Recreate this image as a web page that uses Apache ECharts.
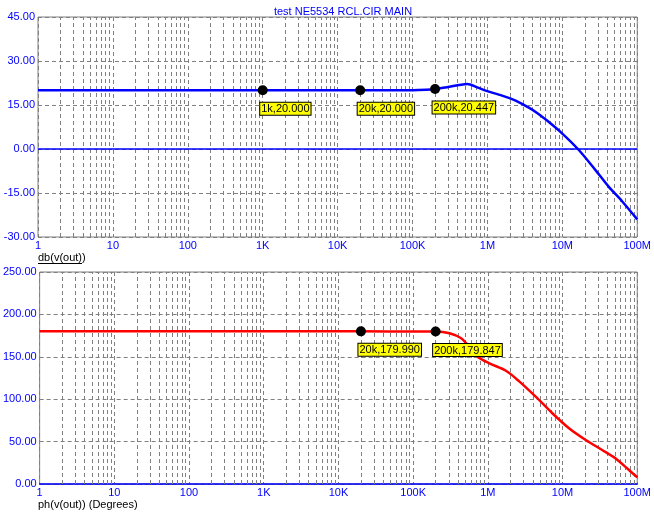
<!DOCTYPE html>
<html>
<head>
    <meta charset='utf-8'>
    <script src="https://cdn.jsdelivr.net/npm/echarts@6/dist/echarts.min.js"></script>
</head>
<body>
<style>
    html, body, #main {
        width: 100%;
        height: 100%;
        margin: 0;
        padding: 0;
        background: #fff;
    }
</style>
<div id="main"></div>
<script>
    // tick labels for the decade ticks (index = log10 of the value)
    var xTickLabels = ['1', '10', '100', '1K', '10K', '100K', '1M', '10M', '100M'];

    // magnitude trace, db(v(out))
    var magFreq = [1, 1e3, 2e4, 1e5, 1.5e5, 2e5, 2.77e5, 4.17e5, 5.4e5, 7.31e5, 9.46e5,
        1.57e6, 2.38e6, 3.57e6, 4.6e6, 5.97e6, 9.9e6, 1.66e7, 2.77e7, 4.17e7, 6.27e7, 1e8];
    var magDb = [20, 20, 20, 20.05, 20.2, 20.447, 21.0, 21.8, 22.2, 21.0, 19.9,
        18.2, 16.5, 14.1, 12.3, 10.1, 5.35, -0.34, -7.2, -12.9, -17.8, -24.0];

    // phase trace, ph(v(out))
    var phFreq = [1, 2e4, 1e5, 2e5, 3.07e5, 4.4e5, 5.37e5, 7.31e5, 1.05e6, 1.75e6, 2.63e6,
        4.37e6, 7.3e6, 1.22e7, 2.04e7, 3.39e7, 5.1e7, 7.3e7, 1e8];
    var phDeg = [180, 179.99, 179.95, 179.847, 177.7, 171.8, 163.9, 150.1, 142.3, 133.5, 121.0,
        103, 83.4, 65.7, 51.9, 40.1, 30.3, 18.5, 7.9];

    // cursor markers
    var magMarkFreq = [1e3, 2e4, 2e5];
    var magMarkVal = [20.000, 20.000, 20.447];
    var magMarkText = ['1k', '20k', '200k'];
    var phMarkFreq = [2e4, 2e5];
    var phMarkVal = [179.990, 179.847];
    var phMarkText = ['20k', '200k'];

    var blue = '#0000ff';
    var gray = '#808080';
    var font = 'Arial, "Liberation Sans", sans-serif';

    var chart = echarts.init(document.getElementById('main'));

    function pairs(xs, ys) {
        var out = [];
        for (var i = 0; i < xs.length; i++) out.push([xs[i], ys[i]]);
        return out;
    }

    // minor log grid lines 2..9 of every decade
    var minorLines = [];
    for (var d = 0; d < 8; d++) {
        for (var m = 2; m <= 9; m++) {
            minorLines.push({xAxis: m * Math.pow(10, d)});
        }
    }

    function xAxisOpt(idx, lineColor) {
        return {
            type: 'log',
            logBase: 10,
            gridIndex: idx,
            min: 1,
            max: 1e8,
            axisLine: {show: lineColor != null, onZero: false, lineStyle: {color: lineColor, width: 1.5}},
            axisTick: {show: false},
            axisLabel: {
                color: blue, fontSize: 11, fontFamily: font, margin: 3,
                showMinLabel: true, showMaxLabel: true,
                formatter: function (v) {
                    return xTickLabels[Math.round(Math.log(v) / Math.LN10)];
                }
            },
            splitLine: {show: true, lineStyle: {color: gray, type: [4, 3], width: 1}}
        };
    }

    function yAxisOpt(idx, min, max, interval) {
        return {
            type: 'value',
            gridIndex: idx,
            min: min,
            max: max,
            interval: interval,
            axisLine: {show: false},
            axisTick: {show: false},
            axisLabel: {
                color: blue, fontSize: 11, fontFamily: font, margin: 3,
                formatter: function (v) { return v.toFixed(2); }
            },
            splitLine: {show: true, lineStyle: {color: gray, type: [4, 3], width: 1}}
        };
    }

    function markerLabel(texts, vals) {
        return {
            show: true,
            position: [2.5, 17.5],
            align: 'left',
            verticalAlign: 'top',
            color: '#000',
            fontSize: 11,
            fontFamily: font,
            backgroundColor: '#ffff00',
            borderColor: '#000',
            borderWidth: 1,
            padding: [1, 1, 0, 1],
            formatter: function (p) {
                return texts[p.dataIndex] + ',' + vals[p.dataIndex].toFixed(3);
            }
        };
    }

    function gridLines(extra) {
        return {
            silent: true, z: 1, symbol: ['none', 'none'], label: {show: false}, animation: false,
            lineStyle: {color: gray, type: [4, 3], width: 1},
            data: minorLines.concat(extra)
        };
    }

    chart.setOption({
        animation: false,
        backgroundColor: '#fff',
        title: {
            text: 'test NE5534 RCL.CIR MAIN',
            left: 338,
            textAlign: 'center',
            top: 1,
            textStyle: {color: blue, fontSize: 11, fontWeight: 'normal', fontFamily: font}
        },
        grid: [
            {left: 38, top: 17, width: 600, height: 220, show: true, borderColor: gray, borderWidth: 1},
            {left: 38, top: 272, width: 600, height: 212, show: true, borderColor: gray, borderWidth: 1}
        ],
        xAxis: [xAxisOpt(0, null), xAxisOpt(1, blue)],
        yAxis: [yAxisOpt(0, -30, 45, 15), yAxisOpt(1, 0, 250, 50)],
        graphic: [
            {type: 'text', left: 38, top: 252, style: {text: 'db(v(out))', fill: '#000', font: '11px ' + font}},
            {type: 'line', shape: {x1: 38, y1: 263.5, x2: 82, y2: 263.5}, style: {stroke: '#000', lineWidth: 1}},
            {type: 'text', left: 38, top: 499, style: {text: 'ph(v(out)) (Degrees)', fill: '#000', font: '11px ' + font}}
        ],
        series: [
            {
                // grid lines of the top plot
                type: 'line', xAxisIndex: 0, yAxisIndex: 0, z: 1,
                data: pairs(magFreq, magDb), showSymbol: false, lineStyle: {opacity: 0}, silent: true,
                markLine: gridLines([{yAxis: 0, lineStyle: {color: blue, type: 'solid', width: 1.5}}])
            },
            {
                // grid lines of the bottom plot
                type: 'line', xAxisIndex: 1, yAxisIndex: 1, z: 1,
                data: pairs(phFreq, phDeg), showSymbol: false, lineStyle: {opacity: 0}, silent: true,
                markLine: gridLines([])
            },
            {
                name: 'db(v(out))', type: 'line', xAxisIndex: 0, yAxisIndex: 0, z: 3,
                data: pairs(magFreq, magDb), showSymbol: false, smooth: 0.3,
                lineStyle: {color: blue, width: 2.5}
            },
            {
                name: 'ph(v(out))', type: 'line', xAxisIndex: 1, yAxisIndex: 1, z: 3,
                data: pairs(phFreq, phDeg), showSymbol: false, smooth: 0.3,
                lineStyle: {color: '#ff0000', width: 2.5}
            },
            {
                type: 'scatter', xAxisIndex: 0, yAxisIndex: 0, z: 4,
                data: pairs(magMarkFreq, magMarkVal), symbolSize: 10,
                itemStyle: {color: '#000', opacity: 1},
                label: markerLabel(magMarkText, magMarkVal)
            },
            {
                type: 'scatter', xAxisIndex: 1, yAxisIndex: 1, z: 4,
                data: pairs(phMarkFreq, phMarkVal), symbolSize: 10,
                itemStyle: {color: '#000', opacity: 1},
                label: markerLabel(phMarkText, phMarkVal)
            }
        ]
    });
</script>
</body>
</html>
